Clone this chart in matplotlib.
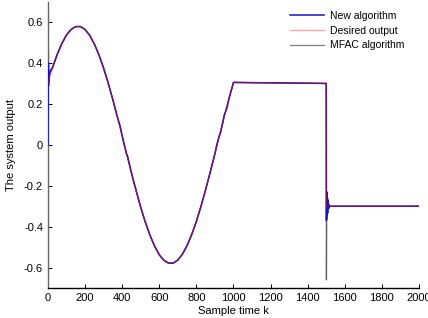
import matplotlib
matplotlib.use("Agg")
import matplotlib.pyplot as plt
from matplotlib.ticker import FuncFormatter

plt.rcParams['font.family'] = ['Liberation Sans', 'DejaVu Sans']
plt.rcParams['axes.unicode_minus'] = False

# desired output
k_desired = [0, 25, 50, 75, 100, 125, 150, 175, 200, 225, 250, 275, 300, 325, 350,
             375, 400, 425, 450, 475, 500, 525, 550, 575, 600, 625, 650, 675, 700,
             725, 750, 775, 800, 825, 850, 875, 900, 925, 950, 975, 1000,
             1500, 1500, 2000]
y_desired = [0.305, 0.378, 0.442, 0.495, 0.537, 0.564, 0.578, 0.578, 0.564, 0.535,
             0.493, 0.440, 0.375, 0.301, 0.220, 0.134, 0.044, -0.048, -0.137, -0.223,
             -0.305, -0.378, -0.442, -0.495, -0.537, -0.564, -0.578, -0.578, -0.563,
             -0.534, -0.492, -0.438, -0.374, -0.300, -0.219, -0.132, -0.043, 0.048,
             0.137, 0.223, 0.305,
             0.300, -0.300, -0.300]

# new algorithm
k_new = [0, 2, 5, 9, 25, 50, 75, 100, 125, 150, 175, 200, 225, 250, 275, 300, 325,
         350, 375, 390, 400, 410, 425, 430, 450, 475, 500, 525, 550, 575, 600, 625,
         650, 675, 700, 725, 750, 775, 800, 825, 850, 875, 900, 910, 925, 930, 950,
         965, 975, 1000,
         1500, 1501, 1503, 1506, 1509, 1513, 1518, 2000]
y_new = [0.0, 0.40, 0.31, 0.35, 0.378, 0.442, 0.495, 0.537, 0.564, 0.578, 0.578,
         0.564, 0.535, 0.493, 0.440, 0.375, 0.301, 0.220, 0.134, 0.088, 0.044, 0.004,
         -0.048, -0.058, -0.137, -0.223, -0.305, -0.378, -0.442, -0.495, -0.537,
         -0.564, -0.578, -0.578, -0.563, -0.534, -0.492, -0.438, -0.374, -0.300,
         -0.219, -0.132, -0.043, 0.000, 0.048, 0.058, 0.145, 0.180, 0.223, 0.305,
         0.300, -0.37, -0.23, -0.34, -0.27, -0.31, -0.30, -0.30]

# MFAC algorithm
k_mfac = [0, 2, 5, 9, 25, 50, 75, 100, 125, 150, 175, 200, 225, 250, 275, 300, 325,
          350, 375, 390, 400, 415, 425, 440, 450, 475, 500, 525, 550, 575, 600, 625,
          650, 675, 700, 725, 750, 775, 800, 825, 850, 875, 900, 915, 925, 940, 950,
          960, 975, 1000,
          1500, 1501, 1503, 1505, 1508, 1511, 1515, 1520, 2000]
y_mfac = [0.30, 0.51, 0.29, 0.36, 0.378, 0.442, 0.495, 0.537, 0.564, 0.578, 0.578,
          0.564, 0.535, 0.493, 0.440, 0.375, 0.301, 0.220, 0.134, 0.085, 0.044,
          -0.010, -0.048, -0.100, -0.137, -0.223, -0.305, -0.378, -0.442, -0.495,
          -0.537, -0.564, -0.578, -0.578, -0.563, -0.534, -0.492, -0.438, -0.374,
          -0.300, -0.219, -0.132, -0.043, 0.015, 0.048, 0.095, 0.137, 0.175, 0.223,
          0.305,
          0.300, -0.66, -0.24, -0.36, -0.26, -0.33, -0.29, -0.30, -0.30]

fig = plt.figure(figsize=(4.28, 3.18), dpi=100)
ax = fig.add_axes([0.112, 0.094, 0.867, 0.901])

ax.plot(k_mfac, y_mfac, color='#606060', lw=0.9, label='MFAC algorithm', zorder=2)
ax.plot(k_new, y_new, color='#1414c0', lw=1.1, label='New algorithm', zorder=3)
ax.plot(k_desired, y_desired, color='#d01028', lw=0.9, alpha=0.55,
        label='Desired output', zorder=4)

ax.set_xlim(0, 2000)
ax.set_ylim(-0.7, 0.7)
ax.set_xticks(range(0, 2001, 200))
ax.set_yticks([-0.6, -0.4, -0.2, 0, 0.2, 0.4, 0.6])
ax.yaxis.set_major_formatter(FuncFormatter(lambda v, p: '%g' % round(v, 2)))
ax.tick_params(direction='in', length=3, labelsize=8, width=0.7)
ax.spines['top'].set_visible(False)
ax.spines['right'].set_visible(False)
ax.spines['left'].set_color('#666666')
ax.spines['left'].set_linewidth(1.0)
ax.spines['bottom'].set_linewidth(1.0)

ax.set_xlabel('Sample time k', fontsize=8, labelpad=2)
ax.set_ylabel('The system output', fontsize=8, labelpad=6)

h, l = ax.get_legend_handles_labels()
order = [1, 2, 0]
leg = ax.legend([h[i] for i in order], [l[i] for i in order], loc='upper right',
                bbox_to_anchor=(0.985, 1.0), frameon=False, fontsize=7.5,
                handlelength=3.3, labelspacing=0.45, handletextpad=0.5)
leg.get_lines()[1].set_color('#ff5050')
leg.get_lines()[2].set_color('#808080')

fig.savefig('out.png', dpi=100)
